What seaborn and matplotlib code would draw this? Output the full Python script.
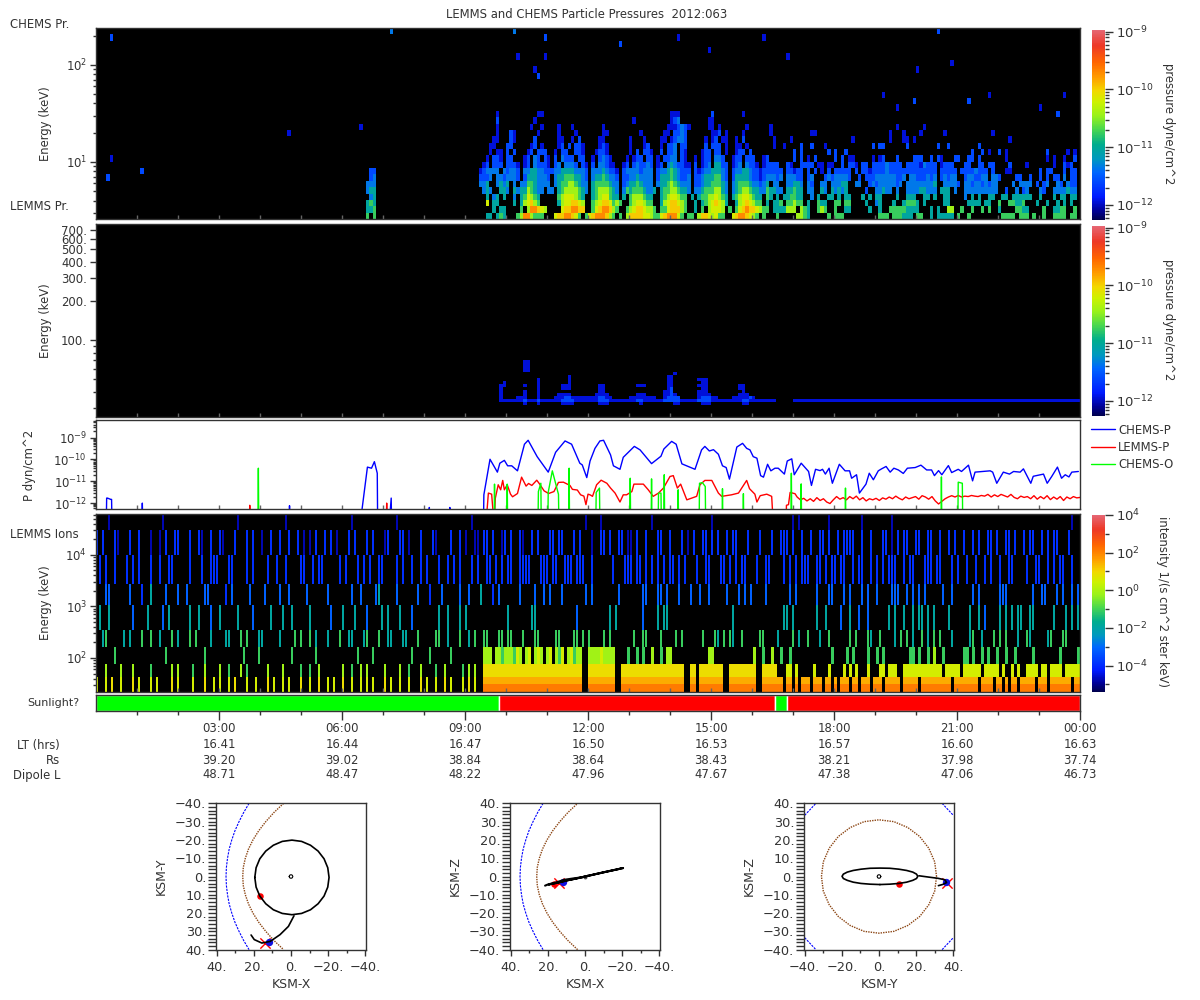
import numpy as np
import pandas as pd
import matplotlib
matplotlib.use("Agg")
import matplotlib.pyplot as plt
from matplotlib.colors import LinearSegmentedColormap, LogNorm
from matplotlib.ticker import NullFormatter
import seaborn as sns

# ---- values ----
title = "LEMMS and CHEMS Particle Pressures  2012:063"
time_labels = ["03:00", "06:00", "09:00", "12:00", "15:00", "18:00", "21:00", "00:00"]
time_hours = [3, 6, 9, 12, 15, 18, 21, 24]
lt_hrs = ["16.41", "16.44", "16.47", "16.50", "16.53", "16.57", "16.60", "16.63"]
rs_vals = ["39.20", "39.02", "38.84", "38.64", "38.43", "38.21", "37.98", "37.74"]
dipole_l = ["48.71", "48.47", "48.22", "47.96", "47.67", "47.38", "47.06", "46.73"]

sun_start = [0.0, 9.83, 16.56, 16.85]
sun_end = [9.83, 16.56, 16.85, 24.0]
sun_colors = ["#00ff00", "#ff0000", "#00ff00", "#ff0000"]

# pressure given by each digit of the spectrogram strings (log10 dyne/cm^2), 0 means no counts
p_levels = [np.nan, -11.95, -11.6, -11.35, -11.04, -10.75, -10.42, -10.19, -9.96, -9.70]
# same for the ion intensity panel (log10 of 1/(s cm^2 ster keV))
i_levels = [np.nan, -4.74, -3.9, -3.14, -1.92, -1.08, -0.14, 0.52, 0.9, 2.1]
ion_pale = 1.5

# CHEMS spectrogram: rows bottom up, 5 min columns, strings begin at column 112
chems_first_col = 112
chems_rows = [
    "0044045400 0569965550 0078899875 0578999865 0506888877 6557899975 0550688767 5500789987 65050 0050000066 5400000505 5500000000 0055505554 4405500404 4444050050 0000000055 5505550500 5005555055",
    "0000404400 0050699876 0000788998 8005789986 5005678876 6505578886 5004050677 7605057898 87655 04444 6660654005 6500500440 0000400400 5555544440 0040400660 0500500505 0040000554 4000050044 55005",
    "0070440000 4046786500 0004677887 6005678875 6500567765 5004678876 5004045678 7640046787 65504 04450 5565504005 4400550550 0004003400 0400455540 4000004400 0004444044 0050055445 0004004004 04040",
    "0040340400 3045765400 0005677765 4004567754 4040566654 4004567765 5040455667 6540456776 54405 40404 4554400304 0044040440 0040404400 0040044400 4404004400 0030404004 4004404444 4400400040 44044",
    "0343004430 4344654330 3304566665 4304566654 3035455543 3404556654 4303345556 6430345665 44335 44330 4454403300 4304343400 0002003343 3030033334 4333044403 0033333333 3300200302 3000320033 33433",
    "3340034340 3033554333 3034556654 3304555543 3023445433 3034456543 3302234455 5430345554 33234 03300 3344303200 3303334400 3300232333 3323033333 3334003333 2033233232 3300003033 3302023003 20322",
    "2223033233 3202444333 2034455544 3203445433 2022334333 3024445432 2302234445 5320244443 22123 33230 3332202300 0232333320 0202223333 3322303322 2323023233 0023322330 3320000220 0200202022 03022",
    "1233330323 3203344332 2233444433 3203334322 1023333233 3023345432 2202123344 4320233443 22122 22220 2212202020 1020222220 2022122223 2222222222 2222022222 0222232220 2000110000 0000202200 02022",
    "0120222022 2101203222 1023033320 2102033211 0012023223 2012034322 1102012304 4220123032 21012 22200 2100222201 1011002022 1022022223 2222022221 3222012220 0022002202 2000020000 1000000010 02120",
    "0010221022 0001203202 1020322202 2001023210 0001012202 2010223302 1001012203 3200122022 20012 00000 0020201020 0000202011 0000010120 0020000222 0020210002 2002202000 0000100000 0000001010 01002",
    "0001011020 2000120222 0010220022 1000122100 0000102022 1002022302 1000012202 2010012202 00000 00000 0020200000 0020200200 0000000000 0000000000 0000000000 0000200201 0020100000 0000002000 00101",
    "0001100022 0000012010 0001202022 1000012100 0000100012 0001022302 2000002022 2010011010 00000 01001 0000200200 0100000000 0000020220 0000020000 0000200200 0000002000",
    "0000110002 1000002000 0001100102 0000011000 0000100010 0001101233 2000001012 0110010200 00000 01000 0100000000 0000000001 0000000000 1000110100 0000000000 0000000000 0000010000",
    "0000010002 1000000100 0001000010 0000001100 0000000100 0000110223 2000000011 2010000100 00000 10000 0000000110 0000000000 0000000000 1000100001 0000001000 0000000000 1000000000",
    "0000010000 0000010010 0001000100 0000001000 0000000000 0000011123 2100000110 1000000010 00000 10000 0000000000 0000000000 0000000000 0010000000 1000000000",
    "0000020000 0000001000 0000000000 0000000000 0000010000 0000001230 0000000110 0000000000",
    "0000010000 0000000110 0000000000 0000000000 0000000000 0000001110 0000000020 0000000100",
]
# isolated CHEMS cells outside the strings
chems_cell_col = [4, 4, 3, 13, 56, 77, 86, 122, 128, 129, 131, 131, 123, 153, 170, 179, 195, 202, 246, 239, 240, 230, 234, 250, 255, 261, 276, 281, 283,
                  79, 81, 79, 80, 81, 79, 80, 81, 80, 81, 79, 80, 81, 79, 80, 81, 80, 81, 80, 81]
chems_cell_row = [28, 9, 6, 7, 13, 14, 29, 29, 23, 22, 28, 25, 25, 27, 28, 26, 28, 25, 29, 18, 23, 19, 17, 24, 18, 19, 17, 16, 19,
                  0, 0, 1, 1, 1, 2, 2, 2, 3, 3, 4, 4, 4, 5, 5, 5, 6, 6, 7, 7]
chems_cell_lev = [2, 1, 2, 2, 1, 1, 3, 3, 1, 2, 2, 1, 1, 2, 1, 1, 1, 1, 2, 2, 1, 1, 1, 1, 2, 1, 1, 2, 1,
                  5, 5, 4, 4, 5, 4, 5, 4, 3, 4, 3, 4, 4, 3, 3, 3, 2, 3, 2, 2]

# LEMMS pressure: rows bottom up starting at row 4, strings begin at column 118
lemms_first_col = 118
lemms_first_row = 4
lemms_rows = [
    "0000000100 0100000011 1100000001 1100000000 0100000000 0110000001 1100000000 01100000000",
    "1111111211 1211111122 2211111112 2211111111 2211111122 2221111122 2211111111 12211111111 00000 1111111111 1111111111 1111111111 1111111111 1111111111 1111111111 1111111111 1111111111 11111",
    "1000011100 0100001112 2111111112 2110000011 1111110012 2220000012 2211000011 1112100000",
    "1000000100 0100000111 1000000011 1100000000 1110000011 2100000011 1100000000 1110000000",
    "1000000100 0100000000 0000000001 1000000000 0000000011 2000000011 1000000000 0100000000",
    "1000000000 0100000011 1000000001 1000000000 0000000001 2000000001 1000000000 1100000000",
    "1100000100 0100000011 1000000001 1000000000 1110000001 1000000011 1000000000 1100000000",
    "0100000000 0100000000 1000000000 0000000000 0000000001 1000000001 1000000000",
    "0000000000 0100000000 1000000000 0000000000 0000000001 1000000011 1000000000",
    "0000000000 0000000000 1000000000 0000000000 0000000001 1000000000",
    "0000000000 0000000000 0000000000 0000000000 0000000000 0100000000",
    "0000000110",
    "0000000110",
    "0000000110",
    "0000000110",
]

# LEMMS ions: one string per energy channel, bottom up, columns of 4.4 min
ions_rows = [
    "7007080070 0080700070 7000080700 0070008007 0700708000 7007000807 0070700080 0700800707 0080070070 7070008070 0700700080 7007008070 0070807009 9999999999 9999999999 9999999999 9900999999 9990099999 9999999999 9999990099 0999999990 0999999999 0099999990 9909099909 9909909099 9099099909 9909999909 9999099999 9999909999 9999099990 9909099099 9990999099 9999909999",
    "0006000060 0060000050 0000060600 0050006000 0600500060 5000000600 0060000050 0500600000 0060050060 6000006000 0600500060 0005006000 0050606008 8888888888 8888888888 8888888888 8800888888 8880088888 8888888888 8888880088 0888888880 0888888888 0088888000 7707000007 0000700007 0707000700 0770777007 7777777777 7707777707 7777707777 7070070700 7777077077 7707777777",
    "0000005000 0000000000 0005000000 0000005000 0000000005 0000500000 0000050000 0005000000 0000000500 0050000000 0000050000 0500000050 0000000006 6606656665 7606706760 6706570675 6600666676 6660000500 5050060050 6600000000 0000660000 0000000006 0050060050 0500000000 0000050000 5050000500 5050000000 0550500506 0050000005 5050050500 5005005000 0050000000 0500000505",
    "0040000004 0000050000 0400000400 0005000040 0000400000 5000040000 0400000050 0004000000 0500040004 0000500040 0040000500 0005000400 0500005005 5000550550 0050005500 0005500005 5050500005 0500000005 0050000000 0000050000 0050005005 0500050000 0050000400 0000400500 0000500000 0500000500 0000004050 5000050005 0000000000 0400000005 0500000000 5000000050 0050000000",
    "0000400000 0030000000 0000400000 0400000030 0000000400 0030000000 0000040000 0000000030 0040000000 3000000400 0000030000 0000400000 0004000000 0000000400 0000004000 0000000000 3000000000 0400000000 0030000004 4000000000 0000000000 0040000000 0000000004 4000000000 4000000030 0000300300 0000400004 0000440004 0000000000 0400003000 0404000440 0400000004 0000040000",
    "0003000000 0000020000 0003000000 0000000300 0002000000 0000003000 0300000000 0000000000 0000030000 0003000000 0000000300 0200000000 0000300000 0020000000 0300000003 0000030000 0000030000 0000000000 0033000300 3000300000 0000300000 3000303030 0000000000 0003000000 3000030003 0000030300 3000033000 3000303000 0030000000 0030000000 0330000000 0030030000 3000030300",
    "0002000000 2000200000 0000020000 0200000020 0000200000 2000000200 0002000020 0000200000 0200000002 0000200000 2000020000 0000000200 0000020000 2200020020 0202000002 0022002200 2020000000 0000002020 2002020002 0200002000 2000200020 0002020000 0002000002 0200022000 2002022002 0000200020 2020202000 0200000220 2000000200 2000002000 0000020000 2000200002 0200020000",
    "0020000100 0000200000 0100002000 0000010020 0200000000 0020010000 0000000200 0100002000 0000200000 2000001000 0020000020 0001000000 0001001002 0020002020 0200020000 0220020002 0000000022 0200020100 2000000020 0000020100 0002020200 2020000000 0000020002 0020000020 0200200002 2020020000 0002000200 2000200020 0000200002 0000200200 2000200002 0020020200 0000000000",
    "0000100000 0000000000 0010000000 0000000000 0000000100 0000000000 0001000000 0000000000 0000010000 0000000000 1000000000 0000000000 0000010000 0000000000 0000000000 0000000000 0001000010 0000000000 0000010000 0000000000 0000010000 0000000000 0000000000 0010100000 0000100000 0000010000 0000010000 0000000000 0000000000 0000000000 0000000000 0000000000 0000010000",
]
# more short bursts in channels 3 to 7, these fall between the columns above
ions_more_channel = [3, 4, 5, 6, 7]
ions_more = [
    "0005000000 0400000050 0000050000 0500000000 0004000050 0000400000 0000005000 0500000400 0000400000 5000000400 0004000000 0000500000 0000400000 0000000000 0000000000 0000000000 0000000000 0000000005 0005000050 0005000000 0000000400 0040000000 0500000000 0050000000 0400000000 0005000040 0500000000 0040000400 0500040000 0050040000 0005000400 0400000400 0005000000",
    "0400000000 0000000400 0030000000 0000400000 0400000000 0000000040 0040000000 0400000000 0000004000 0000040000 0400000000 0000000400 0400000000 0000000000 0000040000 0000000000 0000000000 0004000000 0000000400 0000000000 0000000000 0000000000 0000000000 0040000000 0004000000 0400000000 0000004000 0040000400 0000400000 0000400000 0000040000 0040000000 0004000400",
    "0000300000 0300000040 0000000300 3000003000 0000030000 0300000000 0000300000 3000000300 0000000030 0000400000 3000000000 0000030000 0300000040 0000300000 0000003000 0300000000 0003000000 0000300000 0000000030 0000000030 0300000000 0000000000 0003000000 0300000000 0000300000 0300000000 0000000300 0030000000 0000030000 0000300000 0003000000 0000003000 0030000000",
    "0200002000 0020000020 0200200000 0000020002 2000020000 0020000200 2000000002 0020020000 0002000200 0200020000 0020000020 2000200002 0200000200 0002000200 0020200020 2000000020 0200020000 0020000200 0200000200 0020200000 0002000002 0200002000 2000200000 0002000200 0200000020 0020020000 0000020002 0020002000 0200020000 0002000020 0200200000 0002000200 0020000002",
    "2000002000 0200000010 0002000200 0200200000 0010002000 2000000020 0200200001 0002000020 1000002000 0020000200 0200100000 0020000020 0200000100 2000010000 0010000200 0000200000 0200010000 0000200010 0002000200 0200000002 0020000000 0002000200 0200000020 2000020000 0020000200 0200000020 0020010002 0002000200 0200002000 0020000020 0002002000 0200000002 2000200020",
]

# panel 3: hours of day and log10 pressure, -13 is below the axis floor
chems_p_hours = [0.25, 0.26, 0.28, 0.36, 0.38, 0.39, 1.12, 1.13, 1.14, 4.71, 4.72, 4.73, 6.44, 6.54, 6.62, 6.72, 6.79, 6.86, 6.87, 7.15, 7.2, 7.21, 8.12, 8.13, 8.14, 8.62, 8.63, 8.64,
                 9.45, 9.46, 9.61, 9.79, 9.85, 9.96, 10.04, 10.14, 10.28, 10.45, 10.54, 10.76, 11.03, 11.21, 11.44, 11.6, 11.8, 11.86, 11.97,
                 12.05, 12.17, 12.29, 12.38, 12.55, 12.62, 12.78, 12.86, 13.13, 13.27, 13.55, 13.78, 13.85, 14.04, 14.15, 14.29, 14.61, 14.77, 14.85, 14.96, 15.06, 15.18, 15.28, 15.37, 15.45,
                 15.63, 15.77, 15.87, 15.95, 16.03, 16.12, 16.21, 16.28, 16.38, 16.46, 16.56, 16.64, 16.79, 16.86, 16.97, 17.03, 17.2, 17.38, 17.45, 17.55, 17.66, 17.72, 17.79, 17.88, 17.96,
                 18.13, 18.27, 18.38, 18.43, 18.55, 18.62, 18.78, 18.86, 18.96, 19.08, 19.16, 19.27, 19.37, 19.46, 19.57, 19.69, 19.79, 19.98, 20.12, 20.26, 20.38, 20.45, 20.55, 20.63, 20.79, 20.87,
                 21.03, 21.11, 21.28, 21.38, 21.44, 21.81, 21.87, 21.97, 22.13, 22.28, 22.38, 22.54, 22.62, 22.8, 22.86, 23.11, 23.2, 23.31, 23.45, 23.55, 23.64, 23.73, 23.8, 23.96]
chems_p_log = [-13, -11.77, -11.77, -11.83, -11.83, -13, -13, -12.0, -13, -13, -12.12, -13, -13, -11.54, -10.35, -10.4, -10.1, -10.63, -13, -13, -11.77, -13, -13, -12.2, -13, -13, -12.2, -13,
               -13, -11.62, -9.99, -10.58, -10.17, -10.04, -10.29, -10.29, -10.52, -9.3, -9.12, -9.87, -10.58, -9.67, -9.15, -9.3, -10.17, -10.25, -10.83,
               -10.07, -9.49, -9.15, -9.12, -9.79, -10.29, -10.45, -9.9, -9.4, -9.56, -10.19, -9.85, -9.52, -9.17, -9.3, -10.2, -10.45, -9.56, -9.4, -9.61, -9.55, -9.76, -10.29, -10.37, -10.9,
               -9.43, -9.26, -9.49, -9.56, -9.87, -9.94, -10.74, -10.81, -10.22, -10.52, -10.4, -10.4, -10.67, -10.07, -9.97, -10.7, -10.17, -10.55, -11.19, -10.45, -10.51, -10.45, -10.67, -10.4, -11.09,
               -10.22, -10.52, -10.52, -10.86, -10.7, -11.54, -11.13, -10.63, -10.93, -10.52, -10.43, -10.32, -10.58, -10.4, -10.48, -10.64, -10.4, -10.37, -10.26, -10.48, -10.48, -10.74, -10.51, -10.7, -10.28, -10.6,
               -10.45, -10.55, -10.26, -10.98, -10.58, -10.52, -10.58, -11.09, -10.58, -10.67, -10.55, -10.58, -10.43, -11.09, -10.77, -10.67, -11.09, -10.78, -10.35, -10.86, -10.7, -10.8, -10.58, -10.55]

lemms_p_hours = [3.74, 3.75, 3.76, 4.74, 4.75, 4.76, 7.08, 7.09, 7.1, 9.51, 9.57, 9.65, 9.71, 9.74, 9.81, 9.87, 9.92, 9.96, 10.03, 10.11, 10.16, 10.28, 10.38, 10.49, 10.55, 10.63, 10.75, 10.81, 10.93, 11.04, 11.17, 11.28, 11.4, 11.56, 11.62, 11.74, 11.82, 11.9, 11.95, 12.0,
                 12.05, 12.11, 12.21, 12.32, 12.46, 12.55, 12.66, 12.78, 12.86, 12.94, 13.07, 13.12, 13.35, 13.47, 13.59, 13.72, 13.84, 14.0, 14.08, 14.18, 14.26, 14.41, 14.53, 14.65, 14.73, 14.85, 15.02, 15.18, 15.26, 15.5, 15.67, 15.87, 15.94, 16.07, 16.12, 16.2, 16.36, 16.48, 16.52, 16.83, 16.84, 16.89, 16.93, 17.05]
lemms_p_log = [-13, -12.1, -13, -13, -12.3, -13, -13, -12.0, -13, -13, -11.54, -11.59, -13, -11.77, -11.16, -11.39, -10.96, -11.39, -11.16, -11.59, -11.71, -11.56, -10.81, -11.22, -11.1, -11.19, -10.95, -11.1, -11.44, -11.56, -11.47, -11.05, -11.04, -11.19, -11.37, -11.4, -11.62, -11.68, -12.07, -11.59,
               -11.62, -11.69, -11.16, -10.95, -11.09, -11.31, -11.54, -11.95, -11.62, -11.62, -11.47, -11.13, -11.13, -11.39, -11.69, -11.54, -11.31, -10.78, -10.74, -11.31, -11.13, -11.85, -11.77, -11.69, -11.16, -10.96, -10.96, -11.54, -11.69, -11.62, -11.54, -10.96, -11.34, -11.59, -11.95, -11.66, -11.59, -11.69, -13, -13, -12.1, -12.07, -11.51, -11.57]
# regular samples of the LEMMS trace from 17.1 h to the end of the day
lemms_tail_log = [-11.72, -11.85, -11.78, -11.9, -11.8, -11.92, -11.75, -11.88, -11.8, -11.95, -12.02, -11.85, -11.7, -11.82, -11.75, -11.85, -11.7, -11.8, -11.68, -11.85, -11.75, -11.9,
                  -11.8, -11.85, -11.78, -11.88, -11.76, -11.82, -11.72, -11.8, -11.68, -11.78, -11.85, -11.72, -11.8, -11.75, -11.7, -11.82, -11.66, -11.72, -11.82, -11.7, -11.9, -12.04,
                  -11.92, -11.8, -11.72, -11.66, -11.72, -11.65, -11.72, -11.68, -11.7, -11.65, -11.68, -11.7, -11.65, -11.68, -11.6, -11.72, -11.62, -11.7, -11.6, -11.66, -11.72, -11.6,
                  -11.74, -11.8, -11.68, -11.74, -11.7, -11.8, -11.66, -11.82, -11.7, -11.8, -11.66, -11.84, -11.72, -11.82, -11.7, -11.88, -11.72, -11.8, -11.7, -11.76, -11.74]

chems_o_hours = [3.95, 3.96, 3.97, 9.71, 9.72, 9.73, 10.02, 10.03, 10.04, 10.78, 10.79, 10.85, 10.86, 11.02, 11.03, 11.13, 11.28, 11.29, 11.53, 11.54, 11.55, 12.19, 12.2, 12.28, 12.29,
                 13.02, 13.03, 13.04, 13.54, 13.55, 13.56, 13.71, 13.72, 13.78, 13.79, 13.85, 13.86, 13.87, 14.19, 14.2, 14.21, 14.71, 14.72, 14.79, 14.86, 14.87, 15.27, 15.28, 15.29, 15.78, 15.79, 15.8,
                 16.95, 16.96, 16.97, 17.19, 17.2, 17.21, 18.27, 18.28, 18.29, 20.61, 20.62, 20.63, 21.02, 21.03, 21.13, 21.14]
chems_o_log = [-13, -10.4, -13, -13, -11.13, -13, -13, -11.13, -13, -13, -11.47, -11.09, -13, -13, -11.5, -10.52, -11.6, -13, -13, -10.4, -13, -13, -11.51, -11.31, -13,
               -13, -10.86, -13, -13, -10.89, -13, -13, -11.54, -11.54, -13, -13, -10.7, -13, -13, -11.39, -13, -13, -11.09, -11.06, -11.24, -13, -13, -11.34, -13, -13, -11.57, -13,
               -13, -10.63, -13, -13, -11.12, -13, -13, -11.31, -13, -13, -10.8, -13, -13, -11.04, -11.09, -13]

# orbit panels, KSM coordinates in Rs
orbit_x = [19.5, 18.8, 16.8, 13.6, 9.5, 4.7, -0.5, -5.7, -10.5, -14.6, -17.8, -19.8, -20.5, -19.8, -17.8, -14.6, -10.5, -5.7, -0.5, 4.7, 9.5, 13.6, 16.8, 18.8, 19.5]
orbit_y = [0.5, 5.8, 10.7, 14.9, 18.2, 20.2, 20.9, 20.2, 18.2, 14.9, 10.7, 5.8, 0.5, -4.8, -9.7, -13.9, -17.1, -19.2, -19.9, -19.2, -17.1, -13.9, -9.7, -4.8, 0.5]
orbit_z = [-4.4, -4.2, -3.8, -3.1, -2.1, -1.1, 0.1, 1.3, 2.4, 3.3, 4.0, 4.5, 4.6, 4.5, 4.0, 3.3, 2.4, 1.3, 0.1, -1.1, -2.1, -3.1, -3.8, -4.2, -4.4]
tail_x = [-1.6, 1.4, 5.9, 11.2, 15.7, 19.8, 21.5]
tail_y = [21.5, 27.3, 31.8, 35.5, 36.4, 34.5, 32.0]
tail_z = [0.4, -0.4, -1.0, -1.8, -3.3, -4.3, -5.0]
saturn_a = [1.0, 0.7, 0.0, -0.7, -1.0, -0.7, 0.0, 0.7, 1.0]
saturn_b = [0.0, 0.7, 1.0, 0.7, 0.0, -0.7, -1.0, -0.7, 0.0]
shock_x = [22.6, 25.5, 28.0, 30.2, 31.9, 33.3, 34.2, 34.8, 35.0, 34.8, 34.2, 33.3, 31.9, 30.2, 28.0, 25.5, 22.6]
shock_y = [-40, -35, -30, -25, -20, -15, -10, -5, 0, 5, 10, 15, 20, 25, 30, 35, 40]
pause_x = [4.0, 9.2, 13.6, 17.4, 20.5, 22.9, 24.6, 25.7, 26.0, 25.7, 24.6, 22.9, 20.5, 17.4, 13.6, 9.2, 4.0]
pause_y = [-40, -35, -30, -25, -20, -15, -10, -5, 0, 5, 10, 15, 20, 25, 30, 35, 40]
corner_y = [-40, -34, 34, 40, -40, -34, 34, 40]
corner_z = [33.5, 40, 40, 33.5, -33.5, -40, -40, -33.5]
corner_seg = [0, 0, 1, 1, 2, 2, 3, 3]
pause_circle_y = [31, 30, 26.8, 21.9, 15.5, 8, 0, -8, -15.5, -21.9, -26.8, -30, -31, -30, -26.8, -21.9, -15.5, -8, 0, 8, 15.5, 21.9, 26.8, 30, 31]
pause_circle_z = [0, 8, 15.5, 21.9, 26.8, 30, 31, 30, 26.8, 21.9, 15.5, 8, 0, -8, -15.5, -21.9, -26.8, -30, -31, -30, -26.8, -21.9, -15.5, -8, 0]
sc_now = [12.1, 36.0, -3.0]
sc_cross = [14.2, 36.5, -3.5]
sc_start = [16.6, 10.9, -4.0]

# ---- figure set up ----
sns.set_theme(style="ticks")
plt.rcParams["font.family"] = "DejaVu Sans"
TXT = "#333333"
FS = 8.4
FS_ORBIT = 9.3
W, H = 1200, 1000

fig = plt.figure(figsize=(12, 10), dpi=100, facecolor="white")
cmap = LinearSegmentedColormap.from_list("cassini", [
    (0.0, (0, 0, 0.3)), (0.05, (0, 0, 0.6)), (0.12, (0, 0.1, 1)), (0.25, (0, 0.4, 1)), (0.32, (0, 0.6, 0.75)),
    (0.4, (0, 0.68, 0.55)), (0.48, (0.3, 0.85, 0.3)), (0.55, (0.6, 0.95, 0.1)), (0.62, (0.8, 0.95, 0)),
    (0.68, (0.95, 0.85, 0)), (0.75, (1, 0.62, 0)), (0.83, (1, 0.4, 0)), (0.92, (0.93, 0.22, 0.15)), (1.0, (0.9, 0.4, 0.45))])


def px_axes(x0, y0, x1, y1, **kw):
    return fig.add_axes([x0 / W, 1 - y1 / H, (x1 - x0) / W, (y1 - y0) / H], **kw)


def px_text(x, y, s, **kw):
    kw.setdefault("color", TXT)
    kw.setdefault("fontsize", FS)
    kw.setdefault("va", "center")
    fig.text(x / W, 1 - y / H, s, **kw)


def to_levels(row, n, table):
    row = row.replace(" ", "").ljust(n, "0")[:n]
    return [table[int(c)] for c in row]


def frame(ax):
    for s in ax.spines.values():
        s.set_color("#333333")
        s.set_linewidth(1.0)


def time_axis(ax):
    ax.set_xlim(0, 24)
    ax.set_xticks(range(1, 24))
    ax.set_xticklabels([])
    ax.tick_params(axis="x", direction="in", length=3, width=1, color="#666666", bottom=True, top=False)


def log_axis(ax, ymin, ymax, major, labels):
    ax.set_yscale("log")
    ax.set_ylim(ymin, ymax)
    ax.set_yticks(major)
    ax.set_yticklabels(labels)
    minors = [m * 10.0 ** e for e in range(-14, 6) for m in range(2, 10)]
    ax.set_yticks([m for m in minors if ymin < m < ymax and m not in major], minor=True)
    ax.yaxis.set_minor_formatter(NullFormatter())
    ax.tick_params(axis="y", which="major", direction="out", length=4.5, width=1, color=TXT, labelsize=FS, labelcolor=TXT, pad=2, left=True)
    ax.tick_params(axis="y", which="minor", direction="out", length=2.5, width=1, color=TXT, left=True)
    frame(ax)


def spectrogram(matrix, box, bar_box, norm, ymin, ymax, major, labels):
    ax = px_axes(*box)
    ax.set_facecolor("black")
    cax = px_axes(*bar_box)
    sns.heatmap(pd.DataFrame(matrix), ax=ax, cbar_ax=cax, cmap=cmap, norm=norm, xticklabels=False, yticklabels=False, rasterized=True)
    ax.set_ylim(0, matrix.shape[0])
    ax.set_facecolor("black")
    over = px_axes(*box)
    over.patch.set_alpha(0)
    time_axis(over)
    log_axis(over, ymin, ymax, major, labels)
    return over, cax


def style_bar(cax, major, labels, minors):
    cax.yaxis.set_ticks_position("right")
    cax.set_yticks(major)
    cax.set_yticklabels(labels)
    cax.set_yticks(minors, minor=True)
    cax.yaxis.set_minor_formatter(NullFormatter())
    cax.tick_params(axis="y", which="major", length=6, width=1, color=TXT, labelsize=9.5, labelcolor=TXT, pad=2, right=True, left=False)
    cax.tick_params(axis="y", which="minor", length=3, width=1, color=TXT, right=True, left=False)
    for s in cax.spines.values():
        s.set_visible(False)


# ---- panel 1 CHEMS ----
chems = np.full((30, 288), np.nan)
for r, row in enumerate(chems_rows):
    chems[r, chems_first_col:] = to_levels(row, 288 - chems_first_col, p_levels)
for c, r, lev in zip(chems_cell_col, chems_cell_row, chems_cell_lev):
    chems[r, c] = p_levels[lev]
p_norm = LogNorm(10 ** -12.26, 10 ** -8.97)
ax1, cax1 = spectrogram(10.0 ** chems, (96, 28, 1080, 219), (1092, 30, 1105, 220), p_norm, 2.58, 240, [10, 100],
                        [r"$\mathregular{10^{1}}$", r"$\mathregular{10^{2}}$"])

p_major = [1e-9, 1e-10, 1e-11, 1e-12]
p_labels = [r"$\mathregular{10^{-9}}$", r"$\mathregular{10^{-10}}$", r"$\mathregular{10^{-11}}$", r"$\mathregular{10^{-12}}$"]
p_minor = [m * 10.0 ** e for e in range(-13, -9) for m in range(2, 10) if 10 ** -12.26 < m * 10.0 ** e < 1e-9]
style_bar(cax1, p_major, p_labels, p_minor)

# ---- panel 2 LEMMS pressure ----
lemms = np.full((64, 288), np.nan)
for r, row in enumerate(lemms_rows):
    lemms[lemms_first_row + r, lemms_first_col:] = to_levels(row, 288 - lemms_first_col, p_levels)
ax2, cax2 = spectrogram(10.0 ** lemms, (96, 224, 1080, 417), (1092, 226, 1105, 416), LogNorm(10 ** -12.26, 10 ** -8.97), 25.5, 785,
                        [100, 200, 300, 400, 500, 600, 700], ["100.", "200.", "300.", "400.", "500.", "600.", "700."])
style_bar(cax2, p_major, p_labels, p_minor)

# ---- panel 3 line plot ----
ax3 = px_axes(96, 420, 1080, 509)
lemms_hours = lemms_p_hours + list(np.linspace(17.1, 24, len(lemms_tail_log)))
lemms_log = lemms_p_log + lemms_tail_log
sns.lineplot(x=chems_p_hours, y=10.0 ** np.array(chems_p_log), ax=ax3, color="#0000ff", lw=1, estimator=None, sort=False, label="CHEMS-P")
sns.lineplot(x=lemms_hours, y=10.0 ** np.array(lemms_log), ax=ax3, color="#ff0000", lw=1, estimator=None, sort=False, label="LEMMS-P")
sns.lineplot(x=chems_o_hours, y=10.0 ** np.array(chems_o_log), ax=ax3, color="#00ff00", lw=1, estimator=None, sort=False, label="CHEMS-O")
time_axis(ax3)
log_axis(ax3, 10 ** -12.27, 10 ** -8.19, [1e-12, 1e-11, 1e-10, 1e-9],
         [r"$\mathregular{10^{-12}}$", r"$\mathregular{10^{-11}}$", r"$\mathregular{10^{-10}}$", r"$\mathregular{10^{-9}}$"])
ax3.legend(loc="upper left", bbox_to_anchor=(1.011, 0.96), frameon=False, fontsize=FS, handlelength=2.05, handletextpad=0.3, labelspacing=0.36,
           borderpad=0, borderaxespad=0, labelcolor=TXT)

# ---- panel 4 LEMMS ions ----
ion_heights = [8, 7, 13, 17, 17, 25, 21, 29, 25, 16]
ion_channels = [to_levels(r, 328, i_levels) for r in ions_rows]
for ch, row in zip(ions_more_channel, ions_more):
    extra = to_levels(row, 328, i_levels)
    ion_channels[ch] = [e if np.isnan(v) else v for v, e in zip(ion_channels[ch], extra)]
# lower half of bottom channel is the deep orange, upper half a paler orange
pale = [ion_pale if v == i_levels[9] else v for v in ion_channels[0]]
ion_channels = [ion_channels[0], pale] + ion_channels[1:]
ions = np.repeat(np.repeat(np.array(ion_channels), ion_heights, axis=0), 3, axis=1)
# isolated bursts are thin lines, only the packed bottom channels keep full width
n_low = sum(ion_heights[:4])
ions[n_low:, 2::3] = np.nan
ions[:, :387][:, 2::3] = np.nan
i_norm = LogNorm(10 ** -5.4, 10 ** 4)
ax4, cax4 = spectrogram(10.0 ** ions, (96, 514, 1080, 692), (1092, 515, 1105, 692), i_norm, 21.9, 62000, [100, 1000, 10000],
                        [r"$\mathregular{10^{2}}$", r"$\mathregular{10^{3}}$", r"$\mathregular{10^{4}}$"])
style_bar(cax4, [1e4, 1e2, 1e0, 1e-2, 1e-4],
          [r"$\mathregular{10^{4}}$", r"$\mathregular{10^{2}}$", r"$\mathregular{10^{0}}$", r"$\mathregular{10^{-2}}$", r"$\mathregular{10^{-4}}$"],
          [1e3, 1e1, 1e-1, 1e-3, 1e-5])

# ---- sunlight bar ----
ax5 = px_axes(96, 695, 1080, 711)
ax5.barh([0] * 4, np.array(sun_end) - np.array(sun_start), left=sun_start, color=sun_colors, height=1)
ax5.set_xlim(0, 24)
ax5.set_ylim(-0.5, 0.5)
ax5.set_yticks([])
ax5.set_xticks(time_hours)
ax5.set_xticklabels([])
ax5.set_xticks([h for h in range(1, 24) if h % 3], minor=True)
ax5.tick_params(axis="x", which="major", direction="out", length=6.5, width=1, color=TXT)
ax5.tick_params(axis="x", which="minor", direction="out", length=3, width=1, color=TXT)
frame(ax5)

# ---- text around the panels ----
px_text(587, 14, title, ha="center", fontsize=8.4)
px_text(10, 24, "CHEMS Pr.")
px_text(10, 206, "LEMMS Pr.")
px_text(10, 535, "LEMMS Ions")
px_text(79, 703, "Sunlight?", ha="right", fontsize=8.0)
px_text(45, 124, "Energy (keV)", rotation=90, ha="center")
px_text(45, 321, "Energy (keV)", rotation=90, ha="center")
px_text(45, 603, "Energy (keV)", rotation=90, ha="center")
px_text(29, 465, "P dyn/cm^2", rotation=90, ha="center")
px_text(1168, 124, "pressure dyne/cm^2", rotation=-90, ha="center")
px_text(1168, 320, "pressure dyne/cm^2", rotation=-90, ha="center")
px_text(1162, 601, "intensity 1/(s cm^2 ster keV)", rotation=-90, ha="center")
px_text(60, 745, "LT (hrs)", ha="right")
px_text(60, 760, "Rs", ha="right")
px_text(60, 775, "Dipole L", ha="right")
for h, a, b, c, d in zip(time_hours, time_labels, lt_hrs, rs_vals, dipole_l):
    x = 96 + h * 41
    for y, s in zip([729, 745, 760, 775], [a, b, c, d]):
        px_text(x, y, s, ha="center")


# ---- orbit panels ----
def orbit_panel(box, xflip, yflip, xlabel, ylabel, xlab, ylab):
    ax = px_axes(*box)
    ax.set_xlim((40.4, -40.4) if xflip else (-40.4, 40.4))
    ax.set_ylim((40.2, -40.2) if yflip else (-40.2, 40.2))
    ax.set_xticks([-40, -20, 0, 20, 40])
    ax.set_xticklabels(xlab)
    ax.set_xticks([-30, -10, 10, 30], minor=True)
    ax.set_yticks(range(-40, 41, 10))
    ax.set_yticklabels(ylab)
    ax.set_yticks([v for v in range(-40, 41, 2) if v % 10], minor=True)
    ax.tick_params(axis="x", which="major", direction="out", length=4, width=1, color=TXT, labelsize=FS_ORBIT, labelcolor=TXT, pad=4)
    ax.tick_params(axis="x", which="minor", direction="out", length=2, width=1, color=TXT)
    ax.tick_params(axis="y", which="both", direction="out", length=6, width=1, color=TXT, labelsize=FS_ORBIT, labelcolor=TXT, pad=1)
    ax.set_xlabel(xlabel, fontsize=9, color=TXT, labelpad=3)
    ax.set_ylabel(ylabel, fontsize=9, color=TXT, labelpad=5)
    frame(ax)
    return ax


def curve(ax, x, y, color, ls="-", lw=1.0, units=None):
    sns.lineplot(x=x, y=y, ax=ax, color=color, ls=ls, lw=lw, estimator=None, sort=False, units=units, legend=False)


def marks(ax, i, j):
    sns.scatterplot(x=[sc_start[i]], y=[sc_start[j]], ax=ax, color="red", s=22, linewidth=0, legend=False)
    sns.scatterplot(x=[sc_cross[i]], y=[sc_cross[j]], ax=ax, color="red", s=55, marker="x", linewidth=1, legend=False)
    sns.scatterplot(x=[sc_now[i]], y=[sc_now[j]], ax=ax, color="#1010e0", s=28, linewidth=0, legend=False)


SHOCK_LS = (0, (2, 1))
PAUSE_LS = (0, (1, 0.8))
lab_x = ["\u221240.", "\u221220.", "0.", "20.", "40."]
lab_y = ["\u221240.", "\u221230.", "\u221220.", "\u221210.", "0.", "10.", "20.", "30.", "40."]

a1 = orbit_panel((216, 803, 366, 950), True, True, "KSM-X", "KSM-Y", lab_x, lab_y)
curve(a1, shock_x, shock_y, "#0000ff", SHOCK_LS, 0.8)
curve(a1, pause_x, pause_y, "#8b4513", PAUSE_LS, 1.0)
curve(a1, orbit_x, orbit_y, "black", lw=1.2)
curve(a1, tail_x, tail_y, "black", lw=1.2)
curve(a1, saturn_a, saturn_b, "black", lw=0.8)
marks(a1, 0, 1)

a2 = orbit_panel((510, 803, 660, 950), True, False, "KSM-X", "KSM-Z", lab_x, lab_y)
curve(a2, shock_x, shock_y, "#0000ff", SHOCK_LS, 0.8)
curve(a2, pause_x, pause_y, "#8b4513", PAUSE_LS, 1.0)
curve(a2, orbit_x, orbit_z, "black", lw=1.5)
curve(a2, tail_x, tail_z, "black", lw=1.5)
sns.scatterplot(x=[0], y=[0], ax=a2, color="#555555", s=8, linewidth=0, legend=False)
marks(a2, 0, 2)

a3 = orbit_panel((804, 803, 954, 950), False, False, "KSM-Y", "KSM-Z", lab_x, lab_y)
curve(a3, corner_y, corner_z, "#0000ff", SHOCK_LS, 0.8, units=corner_seg)
curve(a3, pause_circle_y, pause_circle_z, "#8b4513", PAUSE_LS, 1.0)
curve(a3, orbit_y, orbit_z, "black", lw=1.2)
curve(a3, tail_y, tail_z, "black", lw=1.2)
curve(a3, saturn_a, saturn_b, "black", lw=0.8)
marks(a3, 1, 2)

fig.savefig("out.png", dpi=100, facecolor="white")
